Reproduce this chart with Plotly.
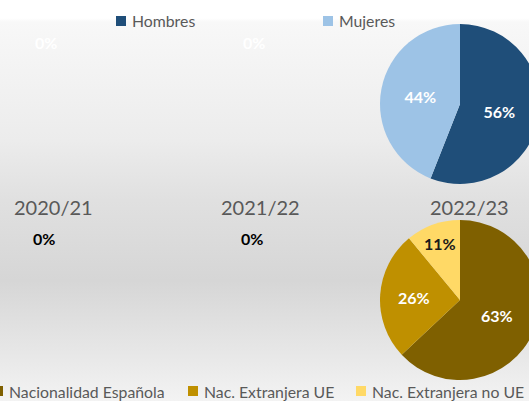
import base64
import plotly.graph_objects as go

# Academic years shown as columns
years = ["2020/21", "2021/22", "2022/23"]

# Students by sex (%)
sex_labels = ["Hombres", "Mujeres"]
hombres = [0, 0, 56]
mujeres = [0, 0, 44]

# Students by nationality (%)
nat_labels = ["Nacionalidad Española", "Nac. Extranjera UE", "Nac. Extranjera no UE"]
nac_espanola = [0, 0, 63]
nac_ue = [0, 0, 26]
nac_no_ue = [0, 0, 11]

# Canvas in pixels (a little wider than the view so the last column bleeds off)
W, H = 545, 401
FONT = "Lato"
GREY = "#595959"

sex_colors = ["#1f4e79", "#9dc3e6"]
nat_colors = ["#7f6000", "#bf9000", "#ffd966"]


def px(x):
    return x / W


def py(y):
    return 1 - y / H


def label(x, y, text, size, color, bold=False, xanchor="center"):
    fig.add_annotation(
        x=px(x), y=py(y), xref="paper", yref="paper", text=text, showarrow=False,
        xanchor=xanchor, yanchor="middle",
        font=dict(family=FONT, size=size, color=color, weight="bold" if bold else "normal"),
    )


fig = go.Figure()

# Column layout (pixel centres) and the two rows of pies
col_x = [44, 252, 460]
title_x = [53, 260, 469]
radius = 80
sex_cy = 104
nat_cy = 300

for i, yr in enumerate(years):
    sex_vals = [hombres[i], mujeres[i]]
    nat_vals = [nac_espanola[i], nac_ue[i], nac_no_ue[i]]
    cx = col_x[i]
    if sum(sex_vals) > 0:
        fig.add_trace(go.Pie(
            labels=sex_labels, values=sex_vals, sort=False, direction="clockwise",
            rotation=0, marker=dict(colors=sex_colors, line=dict(width=0)),
            texttemplate="%{percent:.0%}", textposition="inside",
            insidetextorientation="horizontal",
            textfont=dict(family=FONT, size=16, color="white", weight="bold"),
            domain=dict(x=[px(cx - radius), px(cx + radius)],
                        y=[py(sex_cy + radius), py(sex_cy - radius)]),
            showlegend=False, hoverinfo="label+percent",
        ))
    else:
        label(cx + 2, 42, f"{sex_vals[0]:.0f}%", 16, "white", bold=True)
    if sum(nat_vals) > 0:
        fig.add_trace(go.Pie(
            labels=nat_labels, values=nat_vals, sort=False, direction="clockwise",
            rotation=0, marker=dict(colors=nat_colors, line=dict(width=0)),
            texttemplate="%{percent:.0%}", textposition="inside",
            insidetextorientation="horizontal",
            textfont=dict(family=FONT, size=16, color=["white", "white", "#1a1a1a"],
                          weight="bold"),
            domain=dict(x=[px(cx - radius), px(cx + radius)],
                        y=[py(nat_cy + radius), py(nat_cy - radius)]),
            showlegend=False, hoverinfo="label+percent",
        ))
    else:
        label(cx, 239, f"{nat_vals[2]:.0f}%", 16, "black", bold=True)
    # Year heading between the two rows
    label(title_x[i], 207, yr, 20, GREY)

# Legends: square swatch followed by the category name
legend_rows = [
    (sex_labels, sex_colors, [116, 323], 21),
    (nat_labels, nat_colors, [-7, 188, 356], 391),
]
for labels, colors, xs, yc in legend_rows:
    for lab, col, x0 in zip(labels, colors, xs):
        fig.add_shape(type="rect", xref="paper", yref="paper",
                      x0=px(x0), x1=px(x0 + 10), y0=py(yc + 5), y1=py(yc - 5),
                      fillcolor=col, line=dict(width=0))
        label(x0 + 14, yc, lab, 15.8, GREY, xanchor="left")

# Soft vertical grey gradient behind everything
stops = [(0.0, "#ffffff"), (0.045, "#ffffff"), (0.055, "#f8f8f8"), (0.35, "#ececec"),
         (0.5, "#e0e0e0"), (0.7, "#d6d6d6"), (0.91, "#eaeaea"), (1.0, "#f3f3f3")]
svg = ('<svg xmlns="http://www.w3.org/2000/svg" width="10" height="100" '
       'preserveAspectRatio="none"><defs><linearGradient id="g" x1="0" y1="0" x2="0" y2="1">'
       + "".join(f'<stop offset="{o}" stop-color="{c}"/>' for o, c in stops)
       + '</linearGradient></defs><rect width="10" height="100" fill="url(#g)"/></svg>')
bg = "data:image/svg+xml;base64," + base64.b64encode(svg.encode()).decode()
fig.add_layout_image(source=bg, xref="paper", yref="paper", x=0, y=1, sizex=1, sizey=1,
                     xanchor="left", yanchor="top", sizing="stretch", layer="below")

fig.update_layout(
    width=W, height=H, margin=dict(l=0, r=0, t=0, b=0),
    paper_bgcolor="white", plot_bgcolor="rgba(0,0,0,0)",
    xaxis=dict(visible=False), yaxis=dict(visible=False),
    showlegend=False,
)

fig.write_html(
    "out.html",
    post_script="document.body.style.margin='0';"
                "document.body.style.overflow='hidden';"
                "document.documentElement.style.overflow='hidden';",
)
